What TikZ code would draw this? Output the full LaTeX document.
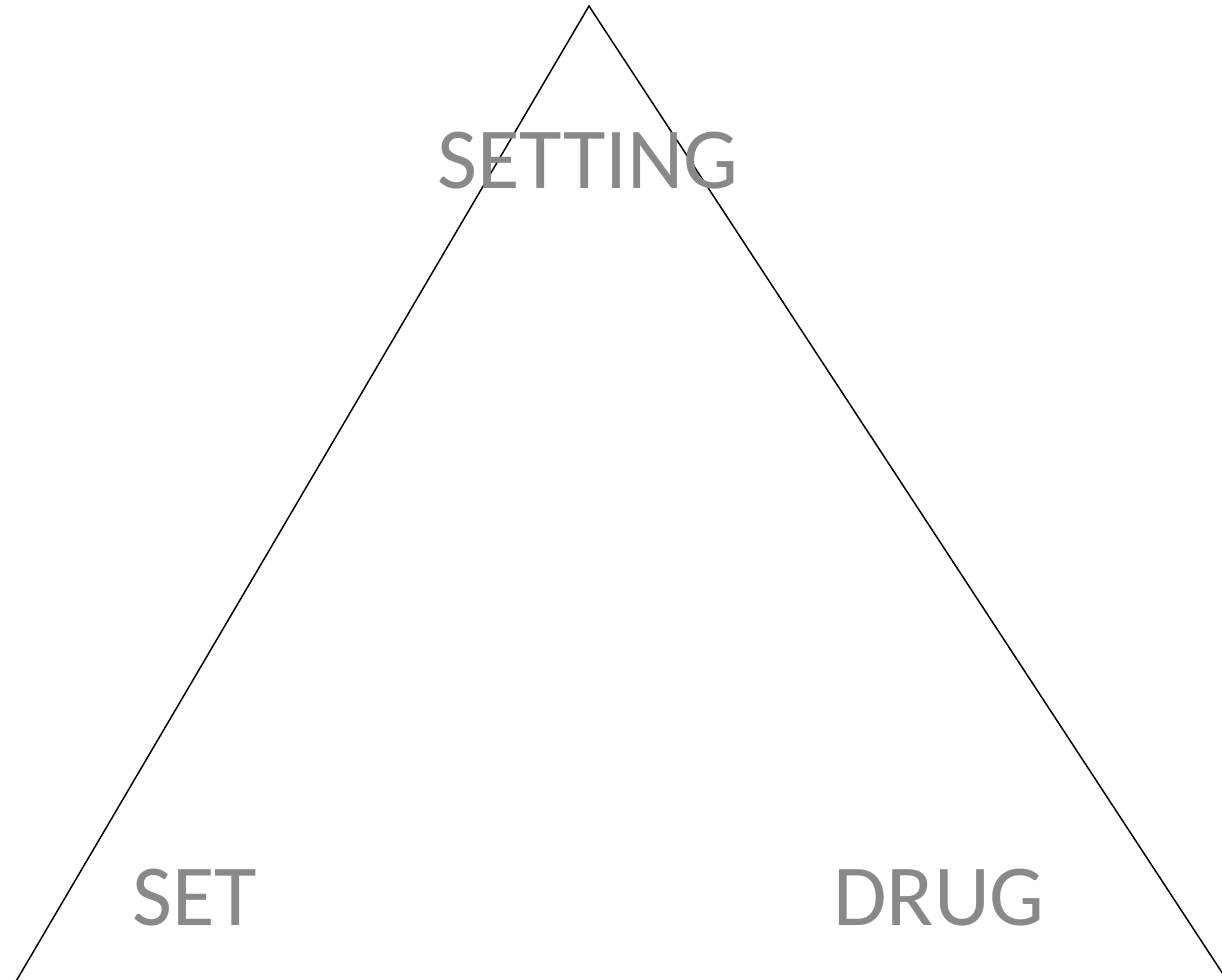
\documentclass[tikz,border=0pt]{standalone}
\usepackage{fontspec}
\setmainfont{Carlito}
\usetikzlibrary{positioning}
\definecolor{ink}{HTML}{000000}
\definecolor{labelgray}{HTML}{898989}
\tikzset{
  corner label/.style={text=labelgray,font=\fontsize{43.5}{52}\selectfont,inner sep=0pt,anchor=base}
}
\begin{document}
\begin{tikzpicture}[x=0.5pt,y=-0.5pt]
        \useasboundingbox (0,0) rectangle (1222,980);
        \clip (0,0) rectangle (1222,980);
        \coordinate (top) at (589,6);
        \coordinate (left) at (5,1000);
        \coordinate (right) at (1240,1000);
        \draw[ink,line width=0.75pt,line join=miter] (left) -- (top) -- (right);
        \node[corner label] (setting) at (588,188) {SETTING};
        \node[corner label] (set) at (195,925) {SET};
        \node[corner label] (drug) at (939,925) {DRUG};
      \end{tikzpicture}
\end{document}
